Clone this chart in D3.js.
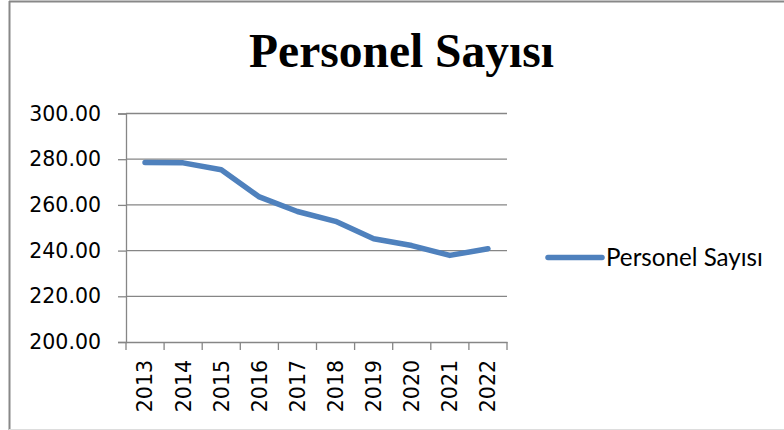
<!DOCTYPE html>
<html>
<head>
<meta charset="utf-8">
<script src="https://cdn.jsdelivr.net/npm/d3@7"></script>
<style>
  body { margin: 0; background: #fff; }
  svg { display: block; }
</style>
</head>
<body>
<div id="chart-area"></div>
<script>
/* Data */
const years = ['2013', '2014', '2015', '2016', '2017', '2018', '2019', '2020', '2021', '2022']
const personel = [278.6, 278.4, 275.4, 263.5, 257.1, 252.8, 245.2, 242.2, 237.9, 240.8]
const yTicks = [200, 220, 240, 260, 280, 300]
const seriesName = 'Personel Sayısı'
const titleText = 'Personel Sayısı'

const CANVAS_WIDTH = 784
const CANVAS_HEIGHT = 430

const $canvas = d3.select('#chart-area')
  .append('svg')
  .attr('width', CANVAS_WIDTH)
  .attr('height', CANVAS_HEIGHT)

// frame
$canvas.append('line')
  .attr('x1', 9).attr('x2', 784).attr('y1', 1.5).attr('y2', 1.5)
  .attr('stroke', '#888').attr('stroke-width', 2)
$canvas.append('line')
  .attr('x1', 9.5).attr('x2', 9.5).attr('y1', 1).attr('y2', 430)
  .attr('stroke', '#888').attr('stroke-width', 2)
$canvas.append('line')
  .attr('x1', 9).attr('x2', 784).attr('y1', 429.5).attr('y2', 429.5)
  .attr('stroke', '#ddd').attr('stroke-width', 1)

// title
$canvas.append('text')
  .attr('x', 401.5)
  .attr('y', 67)
  .attr('text-anchor', 'middle')
  .attr('font-family', '"Liberation Serif", "Times New Roman", serif')
  .attr('font-weight', 'bold')
  .attr('font-size', 47.5)
  .text(titleText)

/* Scene */
const plot = { left: 126, right: 507, top: 113.5, bottom: 342 }

const scaleX = d3.scaleBand()
  .domain(years)
  .range([plot.left, plot.right])

const scaleY = d3.scaleLinear()
  .domain([200, 300])
  .range([plot.bottom, plot.top])

const labelFont = '"DejaVu Sans", Verdana, sans-serif'

// gridlines
$canvas.append('g')
  .selectAll('line')
  .data(yTicks.slice(1))
  .enter()
  .append('line')
  .attr('x1', plot.left).attr('x2', plot.right)
  .attr('y1', d => scaleY(d)).attr('y2', d => scaleY(d))
  .attr('stroke', '#868686').attr('stroke-width', 1.3)

// y axis
const yAxisCall = d3.axisLeft(scaleY)
  .tickValues(yTicks)
  .tickFormat(d3.format('.2f'))
  .tickSize(8)
  .tickPadding(17)
const $yAxis = $canvas.append('g')
  .attr('transform', `translate(${plot.left}, 0)`)
  .call(yAxisCall)
$yAxis.select('.domain').attr('stroke', '#868686').attr('stroke-width', 1.3)
$yAxis.selectAll('.tick line').attr('stroke', '#868686').attr('stroke-width', 1.3)
$yAxis.selectAll('.tick text')
  .attr('font-family', labelFont)
  .attr('font-size', 20.5)
  .attr('fill', '#000')

// x axis
const xAxisCall = d3.axisBottom(scaleX).tickSize(0).tickSizeOuter(0)
const $xAxis = $canvas.append('g')
  .attr('transform', `translate(0, ${plot.bottom})`)
  .call(xAxisCall)
$xAxis.select('.domain').attr('stroke', '#868686').attr('stroke-width', 1.3)
$xAxis.selectAll('.tick text')
  .attr('font-family', labelFont)
  .attr('font-size', 20.5)
  .attr('fill', '#000')
  .attr('text-anchor', 'end')
  .attr('dy', '0.36em')
  .attr('transform', 'translate(0, 18) rotate(-90)')
  .attr('x', 0).attr('y', 0)

// category boundary ticks
const bounds = years.map(d => scaleX(d)).concat([plot.right])
$canvas.append('g')
  .selectAll('line')
  .data(bounds)
  .enter()
  .append('line')
  .attr('x1', d => d).attr('x2', d => d)
  .attr('y1', plot.bottom).attr('y2', plot.bottom + 8)
  .attr('stroke', '#868686').attr('stroke-width', 1.3)

// line
const line = d3.line()
  .x((d, i) => scaleX(years[i]) + scaleX.bandwidth() / 2)
  .y(d => scaleY(d))

$canvas.append('path')
  .datum(personel)
  .attr('fill', 'none')
  .attr('stroke', '#4F81BD')
  .attr('stroke-width', 5.5)
  .attr('stroke-linecap', 'round')
  .attr('stroke-linejoin', 'round')
  .attr('d', line)

// legend
const $legend = $canvas.append('g').attr('transform', 'translate(548, 257.5)')
$legend.append('line')
  .attr('x1', 0).attr('x2', 54)
  .attr('stroke', '#4F81BD').attr('stroke-width', 5.5)
  .attr('stroke-linecap', 'round')
const $legendText = $legend.append('text')
  .attr('x', 58)
  .attr('y', 0)
  .attr('dy', '0.36em')
  .attr('font-family', 'Lato, "Open Sans", sans-serif')
  .attr('font-size', 22)
  .text(seriesName)
// fit legend label to the width it takes in the reference
const w = $legendText.node().getComputedTextLength()
$legendText.attr('font-size', 22 * 157 / w)
</script>
</body>
</html>
